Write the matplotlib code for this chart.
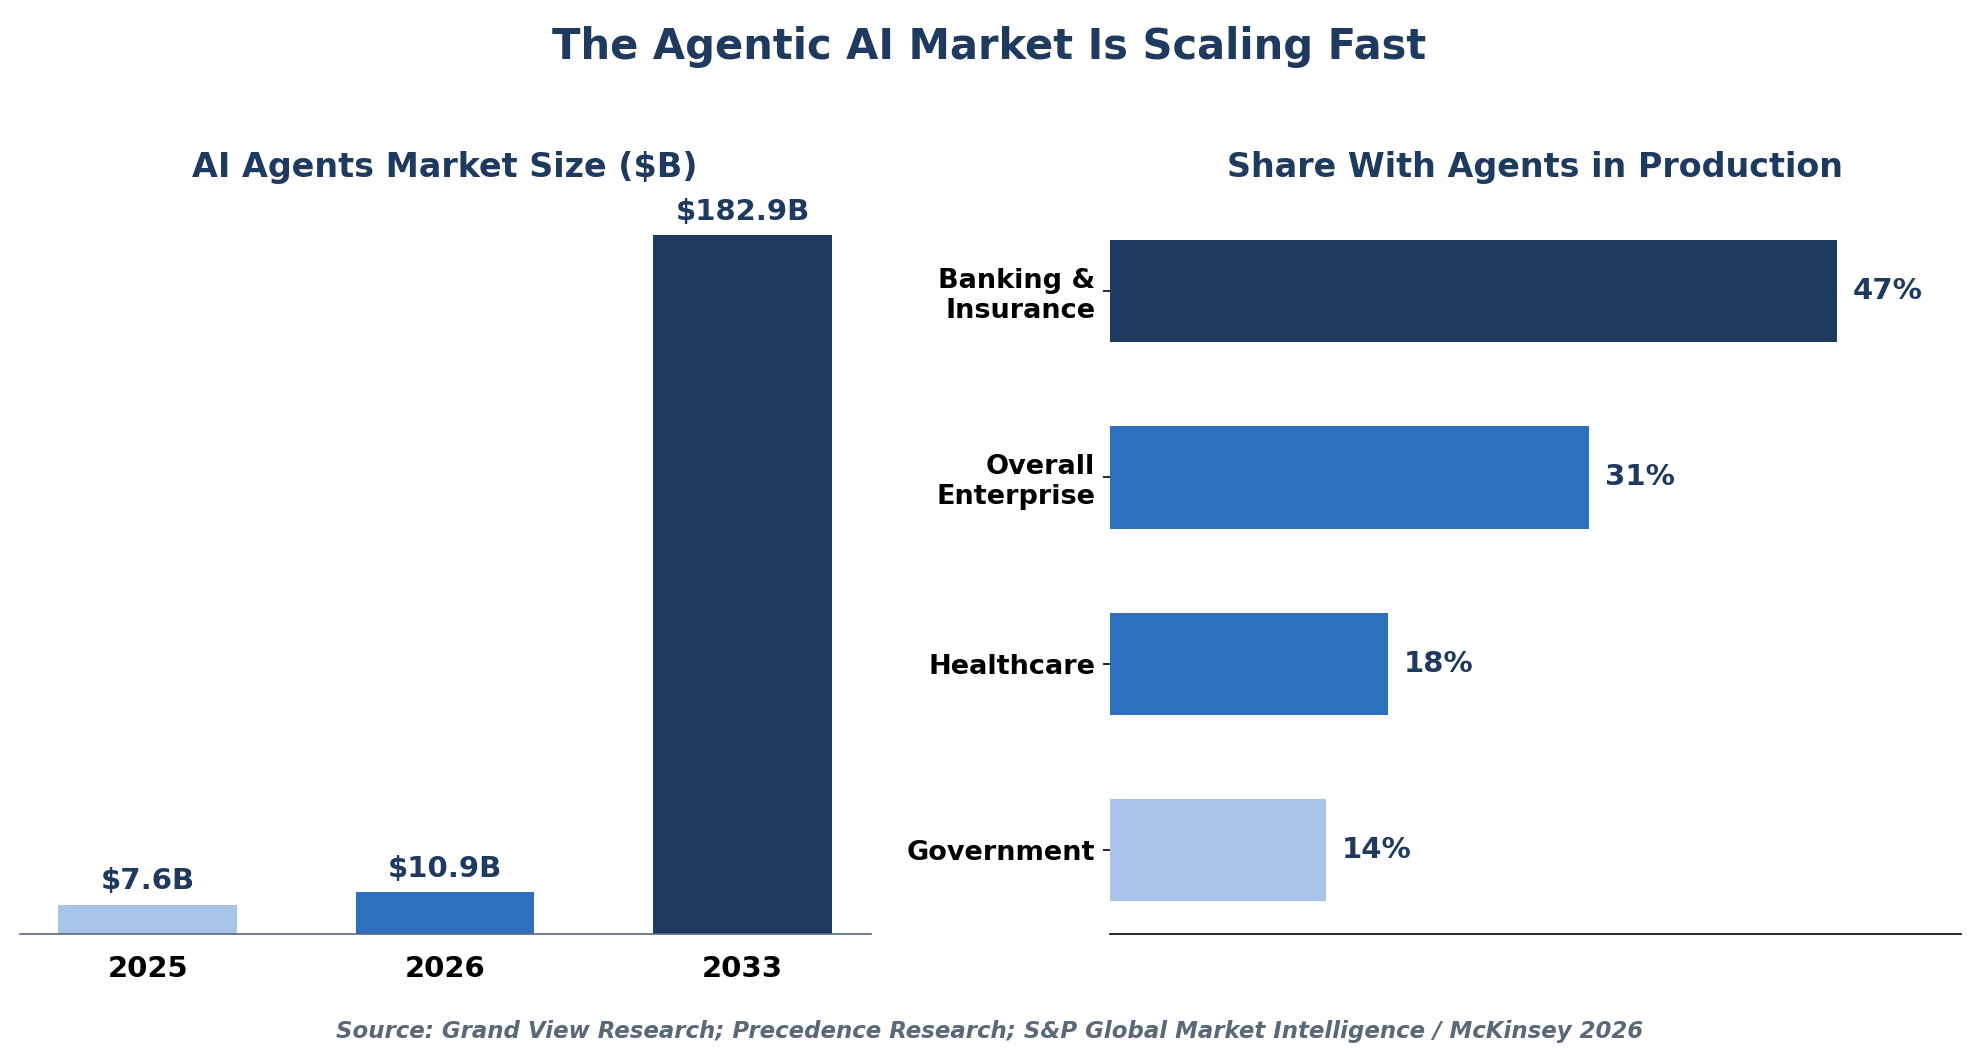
import matplotlib.pyplot as plt
import numpy as np

years = ['2025', '2026', '2033']
market_size = [7.6, 10.9, 182.9]
sectors = ['Banking &\nInsurance', 'Overall\nEnterprise', 'Healthcare', 'Government']
share = [47, 31, 18, 14]

navy = '#1f3a5f'
mid_blue = '#2e6fc0'
light_blue = '#a8c5e8'

plt.figure(figsize=(13.19, 7.06), dpi=150)
plt.suptitle('The Agentic AI Market Is Scaling Fast', fontsize=20, fontweight='bold', color=navy, y=0.975)

# left panel: market size
ax1 = plt.axes([0.01, 0.118, 0.43, 0.66])
x = np.arange(len(years))
plt.bar(x, market_size, width=0.6, color=[light_blue, mid_blue, navy])
for i, v in enumerate(market_size):
    plt.text(i, v + 2.5, f'${v}B', ha='center', va='bottom', fontsize=14, fontweight='bold', color=navy)
plt.xticks(x, years, fontsize=14, fontweight='bold')
plt.yticks([])
plt.tick_params(axis='x', length=0, pad=10)
plt.ylim(0, 182.9)
plt.xlim(-0.43, 2.43)
for s in ['top', 'right', 'left']:
    ax1.spines[s].set_visible(False)
ax1.spines['bottom'].set_color('#5a6878')
plt.title('AI Agents Market Size ($B)', fontsize=16, fontweight='bold', color=navy, pad=28)

# right panel: share in production
ax2 = plt.axes([0.561, 0.118, 0.43, 0.66])
y = np.arange(len(sectors))
plt.barh(y, share, height=0.55, color=[navy, mid_blue, mid_blue, light_blue])
for i, v in enumerate(share):
    plt.text(v + 1, i, f'{v}%', va='center', fontsize=14, fontweight='bold', color=navy)
plt.yticks(y, sectors, fontsize=13, fontweight='bold')
plt.xticks([])
plt.xlim(0, 55)
plt.ylim(3.45, -0.3)
for s in ['top', 'right', 'left']:
    ax2.spines[s].set_visible(False)
plt.title('Share With Agents in Production', fontsize=16, fontweight='bold', color=navy, pad=28)

plt.figtext(0.5, 0.02, 'Source: Grand View Research; Precedence Research; S&P Global Market Intelligence / McKinsey 2026',
            ha='center', fontsize=11, fontstyle='italic', fontweight='bold', color='#5a6878')

plt.savefig('out.png', dpi=150)
